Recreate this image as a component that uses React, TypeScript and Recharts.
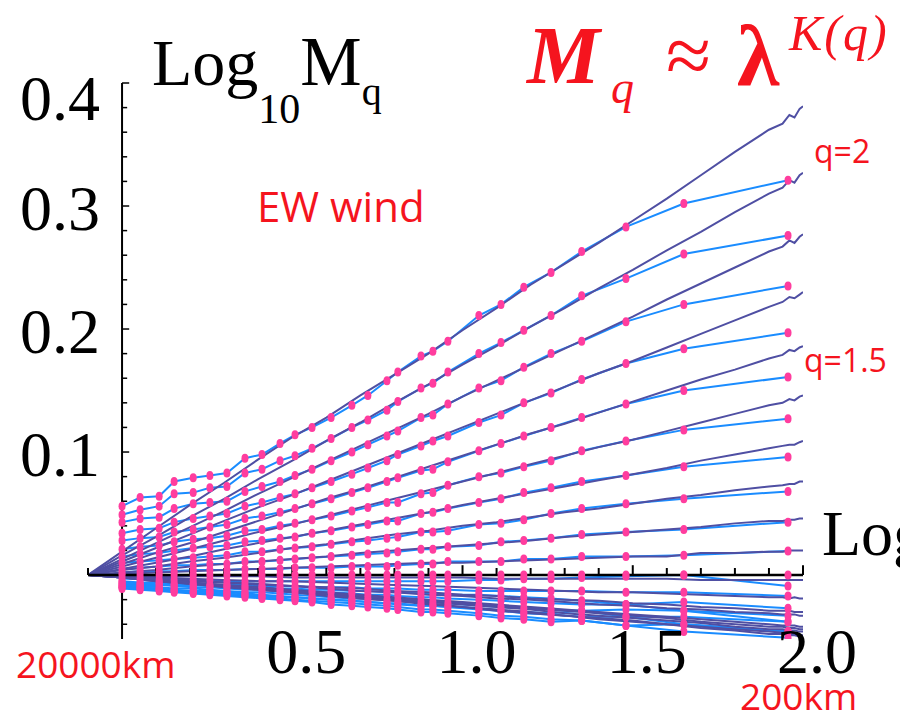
import { ComposedChart, Line, Scatter, XAxis, YAxis, ReferenceLine } from 'recharts'

// scale positions of the sampled moments (log10 of 20000km / scale)
const blueX = [
  0, 0.053, 0.109, 0.153, 0.209, 0.258, 0.308, 0.361, 0.411, 0.464, 0.508, 0.558, 0.614, 0.675,
  0.722, 0.778, 0.81, 0.878, 0.913, 0.957, 1.048, 1.113, 1.18, 1.26, 1.35, 1.48, 1.65, 1.956,
]

// sampled moments, one list per q (q = 2.0 down to 0.1)
const blueQ20 = [0.056, 0.063, 0.064, 0.076, 0.079, 0.081, 0.083, 0.095, 0.098, 0.107, 0.114, 0.12, 0.128, 0.138, 0.146, 0.158, 0.165, 0.178, 0.182, 0.19, 0.211, 0.22, 0.234, 0.246, 0.263, 0.283, 0.302, 0.321]
const blueQ19 = [0.049, 0.053, 0.056, 0.066, 0.067, 0.071, 0.072, 0.083, 0.086, 0.093, 0.097, 0.103, 0.111, 0.12, 0.126, 0.134, 0.141, 0.152, 0.156, 0.165, 0.18, 0.189, 0.199, 0.211, 0.227, 0.241, 0.261, 0.276]
const blueQ18 = [0.043, 0.046, 0.047, 0.054, 0.058, 0.059, 0.06, 0.068, 0.072, 0.076, 0.081, 0.086, 0.093, 0.1, 0.106, 0.113, 0.117, 0.128, 0.13, 0.139, 0.152, 0.158, 0.169, 0.18, 0.19, 0.206, 0.22, 0.235]
const blueQ17 = [0.034, 0.037, 0.038, 0.043, 0.046, 0.048, 0.05, 0.056, 0.059, 0.063, 0.066, 0.071, 0.076, 0.082, 0.087, 0.093, 0.098, 0.105, 0.109, 0.113, 0.124, 0.13, 0.14, 0.148, 0.159, 0.172, 0.184, 0.197]
const blueQ16 = [0.028, 0.03, 0.031, 0.035, 0.037, 0.039, 0.041, 0.046, 0.048, 0.051, 0.054, 0.058, 0.062, 0.067, 0.071, 0.076, 0.079, 0.085, 0.086, 0.092, 0.101, 0.107, 0.113, 0.12, 0.128, 0.139, 0.15, 0.161]
const blueQ15 = [0.021, 0.023, 0.024, 0.027, 0.029, 0.03, 0.032, 0.036, 0.037, 0.04, 0.042, 0.045, 0.048, 0.052, 0.055, 0.059, 0.059, 0.066, 0.067, 0.073, 0.08, 0.083, 0.088, 0.093, 0.101, 0.109, 0.118, 0.127]
const blueQ14 = [0.015, 0.017, 0.018, 0.02, 0.022, 0.023, 0.024, 0.027, 0.028, 0.03, 0.031, 0.034, 0.036, 0.039, 0.041, 0.044, 0.044, 0.05, 0.051, 0.054, 0.059, 0.062, 0.067, 0.071, 0.076, 0.081, 0.088, 0.096]
const blueQ13 = [0.01, 0.011, 0.012, 0.013, 0.014, 0.015, 0.016, 0.019, 0.019, 0.021, 0.022, 0.023, 0.025, 0.027, 0.028, 0.03, 0.031, 0.035, 0.035, 0.036, 0.041, 0.042, 0.045, 0.05, 0.054, 0.058, 0.062, 0.068]
const blueQ12 = [0.005, 0.006, 0.007, 0.008, 0.008, 0.009, 0.009, 0.011, 0.011, 0.012, 0.013, 0.014, 0.015, 0.016, 0.017, 0.018, 0.019, 0.021, 0.021, 0.023, 0.024, 0.027, 0.028, 0.03, 0.033, 0.035, 0.037, 0.043]
const blueQ11 = [0.002, 0.003, 0.003, 0.003, 0.004, 0.004, 0.004, 0.005, 0.005, 0.005, 0.006, 0.006, 0.006, 0.007, 0.007, 0.007, 0.008, 0.009, 0.009, 0.011, 0.011, 0.011, 0.013, 0.013, 0.015, 0.015, 0.016, 0.0195]
const blueQ10 = [0, 0, 0, 0, 0, 0, 0, 0, 0, 0, 0, 0, 0, 0, 0, 0, 0, 0, 0, 0, 0, 0, 0, 0, 0, 0, 0, 0]
const blueQ09 = [-0.003, -0.003, -0.004, -0.004, -0.004, -0.004, -0.005, -0.005, -0.005, -0.005, -0.005, -0.005, -0.005, -0.005, -0.005, -0.005, -0.005, -0.005, -0.005, -0.005, -0.004, -0.004, -0.003, -0.003, -0.002, -0.001, 0, -0.009]
const blueQ08 = [-0.005, -0.006, -0.006, -0.007, -0.007, -0.008, -0.008, -0.008, -0.009, -0.009, -0.009, -0.01, -0.01, -0.01, -0.011, -0.011, -0.011, -0.012, -0.012, -0.012, -0.013, -0.013, -0.013, -0.013, -0.013, -0.014, -0.014, -0.017]
const blueQ07 = [-0.007, -0.008, -0.008, -0.009, -0.01, -0.01, -0.011, -0.012, -0.012, -0.013, -0.013, -0.014, -0.014, -0.015, -0.016, -0.016, -0.017, -0.018, -0.018, -0.019, -0.02, -0.021, -0.022, -0.023, -0.024, -0.024, -0.022, -0.027]
const blueQ06 = [-0.008, -0.009, -0.01, -0.011, -0.011, -0.012, -0.013, -0.014, -0.014, -0.015, -0.016, -0.017, -0.018, -0.019, -0.019, -0.02, -0.021, -0.022, -0.022, -0.023, -0.025, -0.026, -0.027, -0.028, -0.029, -0.028, -0.029, -0.033]
const blueQ05 = [-0.009, -0.01, -0.011, -0.012, -0.013, -0.013, -0.014, -0.015, -0.016, -0.017, -0.018, -0.019, -0.02, -0.021, -0.022, -0.023, -0.024, -0.025, -0.025, -0.026, -0.028, -0.029, -0.031, -0.032, -0.034, -0.034, -0.034, -0.038]
const blueQ04 = [-0.01, -0.011, -0.012, -0.013, -0.014, -0.015, -0.016, -0.017, -0.018, -0.019, -0.02, -0.021, -0.022, -0.023, -0.024, -0.025, -0.026, -0.028, -0.028, -0.029, -0.031, -0.033, -0.034, -0.036, -0.037, -0.041, -0.04, -0.046]
const blueQ03 = [-0.011, -0.012, -0.013, -0.014, -0.015, -0.016, -0.017, -0.018, -0.019, -0.02, -0.021, -0.022, -0.024, -0.025, -0.026, -0.027, -0.028, -0.03, -0.03, -0.031, -0.033, -0.035, -0.036, -0.038, -0.037, -0.041, -0.046, -0.051]
const blueQ02 = [-0.01, -0.011, -0.012, -0.013, -0.014, -0.014, -0.015, -0.016, -0.017, -0.018, -0.018, -0.019, -0.02, -0.021, -0.022, -0.023, -0.023, -0.025, -0.025, -0.026, -0.027, -0.029, -0.03, -0.031, -0.029, -0.034, -0.04, -0.046]
const blueQ01 = [-0.006, -0.007, -0.007, -0.008, -0.008, -0.009, -0.009, -0.01, -0.01, -0.011, -0.011, -0.012, -0.012, -0.013, -0.013, -0.014, -0.014, -0.015, -0.015, -0.016, -0.016, -0.017, -0.018, -0.019, -0.021, -0.024, -0.029, -0.038]

// dense estimates, all starting at (-0.1, 0)
const darkX = [-0.1, 0, 0.1, 0.2, 0.3, 0.4, 0.5, 0.6, 0.7, 0.8, 0.9, 1.0, 1.1, 1.2, 1.3, 1.4, 1.5, 1.6, 1.7, 1.8, 1.9, 1.94, 1.96, 1.975, 1.99, 2.0]

const darkQ20 = [0, 0.019, 0.038, 0.057, 0.075, 0.094, 0.112, 0.128, 0.146, 0.163, 0.18, 0.199, 0.217, 0.236, 0.253, 0.27, 0.288, 0.306, 0.325, 0.344, 0.362, 0.367, 0.374, 0.372, 0.379, 0.381]
const darkQ19 = [0, 0.016, 0.031, 0.047, 0.062, 0.078, 0.093, 0.109, 0.124, 0.14, 0.155, 0.171, 0.186, 0.202, 0.217, 0.233, 0.248, 0.264, 0.279, 0.295, 0.31, 0.315, 0.321, 0.319, 0.325, 0.327]
const darkQ18 = [0, 0.013, 0.026, 0.039, 0.052, 0.066, 0.079, 0.092, 0.105, 0.118, 0.131, 0.145, 0.158, 0.171, 0.184, 0.197, 0.21, 0.224, 0.237, 0.25, 0.263, 0.267, 0.272, 0.27, 0.275, 0.277]
const darkQ17 = [0, 0.011, 0.022, 0.033, 0.044, 0.055, 0.065, 0.076, 0.087, 0.098, 0.109, 0.12, 0.131, 0.142, 0.153, 0.164, 0.174, 0.185, 0.196, 0.207, 0.218, 0.222, 0.226, 0.225, 0.228, 0.23]
const darkQ16 = [0, 0.009, 0.018, 0.026, 0.035, 0.044, 0.053, 0.062, 0.07, 0.079, 0.088, 0.097, 0.106, 0.115, 0.123, 0.132, 0.141, 0.15, 0.159, 0.167, 0.176, 0.179, 0.183, 0.182, 0.185, 0.186]
const darkQ15 = [0, 0.007, 0.014, 0.021, 0.028, 0.035, 0.041, 0.048, 0.055, 0.062, 0.069, 0.076, 0.083, 0.09, 0.097, 0.104, 0.11, 0.117, 0.124, 0.131, 0.138, 0.14, 0.143, 0.142, 0.145, 0.146]
const darkQ14 = [0, 0.005, 0.01, 0.015, 0.021, 0.026, 0.031, 0.036, 0.041, 0.046, 0.051, 0.057, 0.062, 0.067, 0.072, 0.077, 0.082, 0.087, 0.093, 0.098, 0.103, 0.105, 0.106, 0.106, 0.108, 0.109]
const darkQ13 = [0, 0.004, 0.007, 0.011, 0.014, 0.018, 0.022, 0.025, 0.029, 0.033, 0.036, 0.04, 0.043, 0.047, 0.051, 0.054, 0.058, 0.062, 0.065, 0.069, 0.072, 0.073, 0.074, 0.074, 0.076, 0.076]
const darkQ12 = [0, 0.002, 0.004, 0.007, 0.009, 0.011, 0.013, 0.015, 0.018, 0.02, 0.022, 0.024, 0.026, 0.028, 0.031, 0.033, 0.035, 0.037, 0.039, 0.042, 0.044, 0.044, 0.045, 0.045, 0.046, 0.046]
const darkQ11 = [0, 0.001, 0.002, 0.003, 0.004, 0.005, 0.006, 0.007, 0.008, 0.009, 0.01, 0.01, 0.011, 0.012, 0.013, 0.014, 0.015, 0.015, 0.018, 0.018, 0.019, 0.019, 0.02, 0.02, 0.02, 0.02]
const darkQ09 = [0, -0.001, -0.001, -0.001, -0.001, -0.001, -0.002, -0.002, -0.002, -0.002, -0.002, -0.002, -0.003, -0.003, -0.003, -0.003, -0.003, -0.003, -0.004, -0.004, -0.004, -0.004, -0.004, -0.004, -0.004, -0.004]
const darkQ08 = [0, -0.001, -0.002, -0.003, -0.004, -0.005, -0.005, -0.006, -0.007, -0.008, -0.009, -0.01, -0.011, -0.012, -0.013, -0.014, -0.014, -0.015, -0.016, -0.017, -0.018, -0.018, -0.019, -0.018, -0.019, -0.019]
const darkQ07 = [0, -0.002, -0.003, -0.005, -0.006, -0.008, -0.009, -0.011, -0.013, -0.014, -0.016, -0.017, -0.019, -0.02, -0.022, -0.024, -0.025, -0.027, -0.028, -0.03, -0.031, -0.032, -0.032, -0.032, -0.033, -0.033]
const darkQ06 = [0, -0.002, -0.004, -0.006, -0.008, -0.01, -0.012, -0.014, -0.016, -0.018, -0.02, -0.022, -0.024, -0.026, -0.028, -0.03, -0.032, -0.034, -0.036, -0.038, -0.04, -0.041, -0.041, -0.041, -0.042, -0.042]
const darkQ05 = [0, -0.002, -0.004, -0.007, -0.009, -0.011, -0.013, -0.015, -0.018, -0.02, -0.022, -0.024, -0.026, -0.028, -0.031, -0.033, -0.035, -0.037, -0.039, -0.042, -0.044, -0.044, -0.045, -0.045, -0.046, -0.046]
const darkQ04 = [0, -0.002, -0.005, -0.007, -0.01, -0.012, -0.014, -0.017, -0.019, -0.021, -0.024, -0.026, -0.029, -0.031, -0.033, -0.036, -0.038, -0.04, -0.043, -0.045, -0.048, -0.048, -0.049, -0.049, -0.05, -0.05]
const darkQ03 = [0, -0.002, -0.005, -0.007, -0.009, -0.012, -0.014, -0.016, -0.019, -0.021, -0.023, -0.026, -0.028, -0.03, -0.033, -0.035, -0.037, -0.04, -0.042, -0.044, -0.046, -0.047, -0.048, -0.048, -0.049, -0.049]
const darkQ02 = [0, -0.002, -0.004, -0.006, -0.008, -0.01, -0.013, -0.015, -0.017, -0.019, -0.021, -0.023, -0.025, -0.027, -0.029, -0.031, -0.033, -0.035, -0.038, -0.04, -0.042, -0.042, -0.043, -0.043, -0.044, -0.044]
const darkQ01 = [0, -0.001, -0.003, -0.004, -0.006, -0.007, -0.009, -0.01, -0.011, -0.013, -0.014, -0.016, -0.017, -0.019, -0.02, -0.021, -0.023, -0.024, -0.026, -0.027, -0.029, -0.029, -0.029, -0.03, -0.03, -0.03]

const xLabelTicks = [0.5, 1.0, 1.5, 2.0]
const yLabelTicks = [0.1, 0.2, 0.3, 0.4]
const xMinorTicks = [-0.1, 0.1, 0.2, 0.3, 0.4, 0.6, 0.7, 0.8, 0.9, 1.1, 1.2, 1.3, 1.4, 1.6, 1.7, 1.8, 1.9]
const yMinorTicks = [-0.04, -0.02, 0.02, 0.04, 0.06, 0.08, 0.12, 0.14, 0.16, 0.18, 0.22, 0.24, 0.26, 0.28, 0.32, 0.34, 0.36, 0.38]

const blueSeries = [blueQ20, blueQ19, blueQ18, blueQ17, blueQ16, blueQ15, blueQ14, blueQ13, blueQ12, blueQ11, blueQ10, blueQ09, blueQ08, blueQ07, blueQ06, blueQ05, blueQ04, blueQ03, blueQ02, blueQ01]
const darkSeries = [darkQ20, darkQ19, darkQ18, darkQ17, darkQ16, darkQ15, darkQ14, darkQ13, darkQ12, darkQ11, darkQ09, darkQ08, darkQ07, darkQ06, darkQ05, darkQ04, darkQ03, darkQ02, darkQ01]

const DARK = '#4f4fa3'
const BLUE = '#1a8cff'
const PINK = '#ff3d9e'
const RED = '#f5141e'
const SERIF = "'Liberation Serif', 'Times New Roman', serif"
const SANS = "'Open Sans', 'Noto Sans', sans-serif"

function toPoints(xs: number[], ys: number[]) {
  return xs.map((x, i) => ({ x, y: ys[i] }))
}

function XTick({ x, y, payload }: any) {
  return (
    <text x={x + 14} y={y + 26} textAnchor="middle" fontFamily={SERIF} fontSize={64} fill="#000">
      {payload.value.toFixed(1)}
    </text>
  )
}

function YTick({ x, y, payload }: any) {
  const dy = payload.value > 0.35 ? 37 : 24
  return (
    <text x={x + 20} y={y + dy} textAnchor="end" fontFamily={SERIF} fontSize={64} fill="#000">
      {payload.value.toFixed(1)}
    </text>
  )
}

function PinkDot({ cx, cy }: any) {
  return <ellipse cx={cx} cy={cy} rx={3.5} ry={4.5} fill={PINK} />
}

export default function App() {
  return (
    <div style={{ position: 'absolute', left: 0, top: 0, width: 900, height: 718, overflow: 'hidden', background: '#fff' }}>
      <ComposedChart width={900} height={718} margin={{ top: 83, right: 97, bottom: 0, left: 0 }}>
        <XAxis
          type="number"
          dataKey="x"
          domain={[-0.1, 2.0]}
          allowDataOverflow
          ticks={xLabelTicks}
          interval={0}
          height={79}
          axisLine={false}
          tickLine={false}
          tick={<XTick />}
        />
        <YAxis
          type="number"
          dataKey="y"
          domain={[-0.052, 0.4]}
          allowDataOverflow
          ticks={yLabelTicks}
          interval={0}
          width={88}
          axisLine={false}
          tickLine={false}
          tick={<YTick />}
        />
        {blueSeries.map((ys, i) => (
          <Line
            key={`b${i}`}
            data={toPoints(blueX, ys)}
            dataKey="y"
            type="linear"
            stroke={BLUE}
            strokeWidth={2}
            dot={false}
            isAnimationActive={false}
          />
        ))}
        {darkSeries.map((ys, i) => (
          <Line
            key={`d${i}`}
            data={toPoints(darkX, ys)}
            dataKey="y"
            type="linear"
            stroke={DARK}
            strokeWidth={2}
            dot={false}
            isAnimationActive={false}
          />
        ))}
        {blueSeries.map((ys, i) => (
          <Scatter
            key={`p${i}`}
            data={toPoints(blueX, ys)}
            dataKey="y"
            fill={PINK}
            shape={<PinkDot />}
            isAnimationActive={false}
          />
        ))}
        <ReferenceLine y={0} stroke="#000" strokeWidth={2.5} />
        <ReferenceLine x={0} stroke="#000" strokeWidth={2} />
        {xMinorTicks.map((v) => (
          <ReferenceLine key={`xt${v}`} segment={[{ x: v, y: 0 }, { x: v, y: 0.0057 }]} stroke="#000" strokeWidth={2} />
        ))}
        {xLabelTicks.map((v) => (
          <ReferenceLine key={`xT${v}`} segment={[{ x: v, y: 0 }, { x: v, y: 0.008 }]} stroke="#000" strokeWidth={2} />
        ))}
        {yMinorTicks.map((v) => (
          <ReferenceLine key={`yt${v}`} segment={[{ x: 0, y: v }, { x: 0.015, y: v }]} stroke="#000" strokeWidth={1.5} />
        ))}
        {yLabelTicks.map((v) => (
          <ReferenceLine key={`yT${v}`} segment={[{ x: 0, y: v }, { x: 0.021, y: v }]} stroke="#000" strokeWidth={1.5} />
        ))}
      </ComposedChart>
      <svg width={900} height={718} style={{ position: 'absolute', left: 0, top: 0, pointerEvents: 'none' }}>
        <text x={152} y={85} fontFamily={SERIF} fontSize={66} fill="#000">
          Log<tspan fontSize={42} dy={38}>10</tspan>
          <tspan fontSize={69} dy={-38}>M</tspan>
          <tspan fontSize={40} dy={20}>q</tspan>
        </text>
        <text x={822} y={555} fontFamily={SERIF} fontSize={64} fill="#000">Log</text>
        <text x={527} y={83} fontFamily={SERIF} fontSize={82} fontStyle="italic" fontWeight="bold" fill={RED}>M</text>
        <text x={611} y={103} fontFamily={SERIF} fontSize={46} fontStyle="italic" fill={RED}>q</text>
        <text x={666} y={83} fontFamily={SERIF} fontSize={82} fill={RED}>≈</text>
        <text x={737} y={85} fontFamily={SERIF} fontSize={86} fontWeight="bold" fill={RED}>λ</text>
        <text x={789} y={50} fontFamily={SERIF} fontSize={50} fontStyle="italic" letterSpacing={2} fill={RED}>K(q)</text>
        <text x={257} y={222} fontFamily={SANS} fontSize={42} fill={RED}>EW wind</text>
        <text x={814} y={163} fontFamily={SANS} fontSize={32} fill={RED}>q=2</text>
        <text x={804} y={372} fontFamily={SANS} fontSize={32} fill={RED}>q=1.5</text>
        <text x={16} y={678} fontFamily={SANS} fontSize={37} fill={RED}>20000km</text>
        <text x={740} y={710} fontFamily={SANS} fontSize={37} fill={RED}>200km</text>
      </svg>
    </div>
  )
}
